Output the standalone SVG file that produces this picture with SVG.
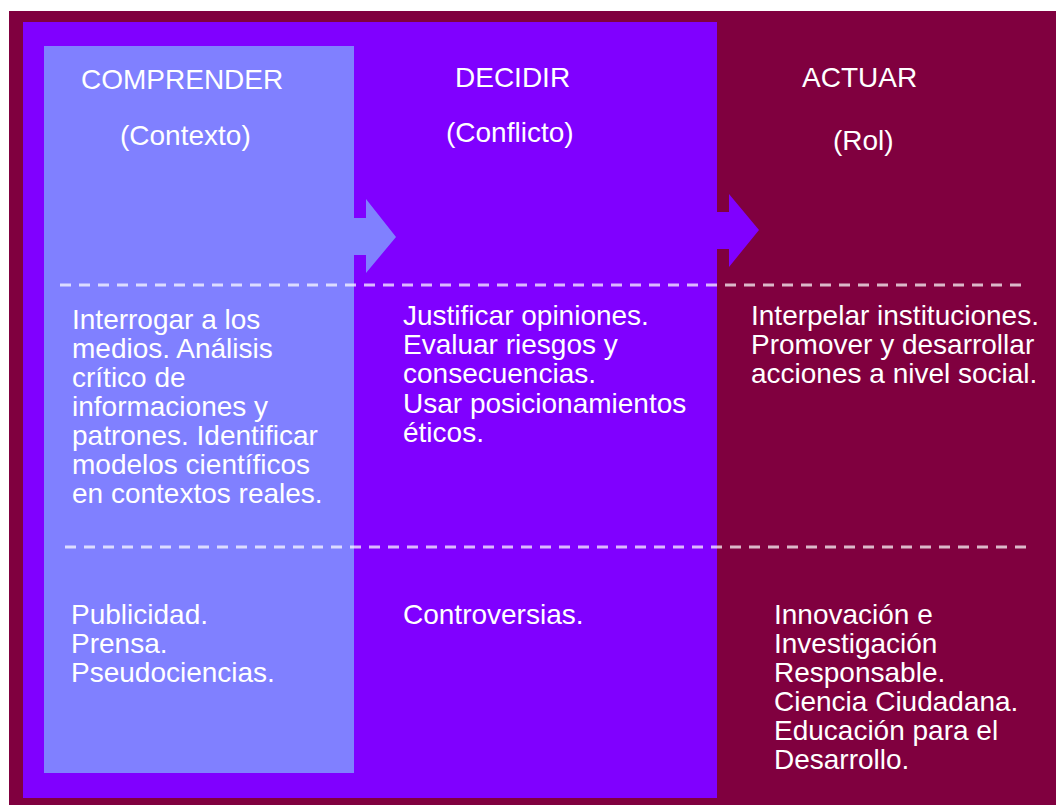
<svg xmlns="http://www.w3.org/2000/svg" width="1056" height="805" viewBox="0 0 1056 805">
<style>
text { font-family: "Liberation Sans", Arial, sans-serif; font-size: 28px; fill: #ffffff; }
.sep { fill: none; stroke: #ffffff; stroke-opacity: 0.72; stroke-width: 3; stroke-dasharray: 11 8; }
</style>
<rect id="fondo" x="9" y="11" width="1047" height="794" fill="#80003f"/>
<g id="decidir">
  <rect x="23" y="22" width="694" height="776" fill="#8000ff"/>
</g>
<g id="comprender">
  <rect x="44" y="46" width="310" height="727" fill="#8080ff"/>
</g>
<g id="connectors">
  <polygon points="354,218 366,218 366,199 396,237 366,273 366,255 354,255" fill="#8080ff"/>
  <polygon points="717,212 729,212 729,194 759,230 729,267 729,249 717,249" fill="#8000ff"/>
</g>
<g id="separadores">
  <line class="sep" x1="60" y1="285" x2="1022" y2="285"/>
  <line class="sep" x1="65" y1="547" x2="1028" y2="547"/>
</g>
<g id="comprender-text">
  <text x="81" y="89">COMPRENDER</text>
  <text x="120" y="145">(Contexto)</text>
  <text x="72" y="329">Interrogar a los</text>
  <text x="72" y="358">medios. Análisis</text>
  <text x="72" y="387">crítico de</text>
  <text x="72" y="416">informaciones y</text>
  <text x="72" y="445">patrones. Identificar</text>
  <text x="72" y="474">modelos científicos</text>
  <text x="72" y="503">en contextos reales.</text>
  <text x="71" y="624">Publicidad.</text>
  <text x="71" y="653">Prensa.</text>
  <text x="71" y="682">Pseudociencias.</text>
</g>
<g id="decidir-text">
  <text x="455" y="87">DECIDIR</text>
  <text x="446" y="142">(Conflicto)</text>
  <text x="403" y="325">Justificar opiniones.</text>
  <text x="403" y="354">Evaluar riesgos y</text>
  <text x="403" y="383">consecuencias.</text>
  <text x="403" y="413">Usar posicionamientos</text>
  <text x="403" y="442">éticos.</text>
  <text x="403" y="624">Controversias.</text>
</g>
<g id="actuar">
  <text x="802" y="87">ACTUAR</text>
  <text x="833" y="150">(Rol)</text>
  <text x="751" y="325">Interpelar instituciones.</text>
  <text x="751" y="354">Promover y desarrollar</text>
  <text x="751" y="383">acciones a nivel social.</text>
  <text x="774" y="624">Innovación e</text>
  <text x="774" y="653">Investigación</text>
  <text x="774" y="682">Responsable.</text>
  <text x="774" y="711">Ciencia Ciudadana.</text>
  <text x="774" y="740">Educación para el</text>
  <text x="774" y="769">Desarrollo.</text>
</g>
</svg>
